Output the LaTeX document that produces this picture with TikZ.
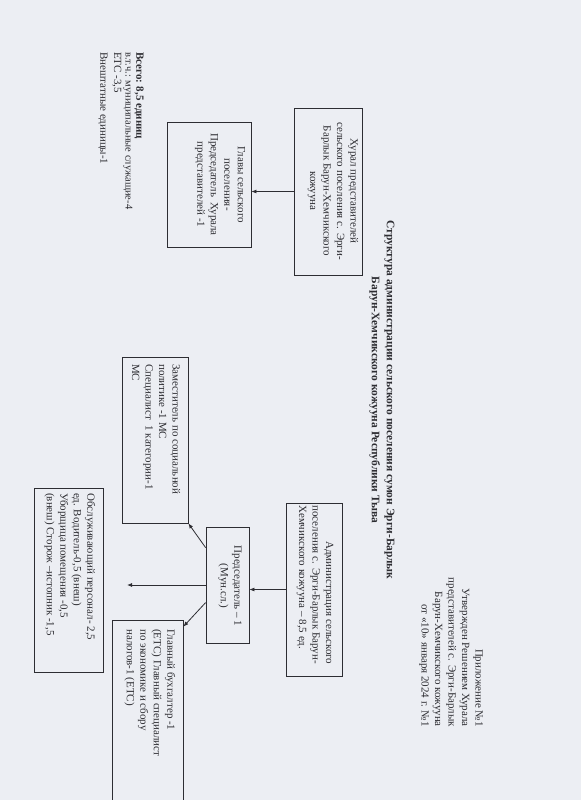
\documentclass[tikz,border=0pt]{standalone}
\usepackage{fontspec}
\setmainfont{Liberation Serif}
\usetikzlibrary{arrows.meta,calc}
\definecolor{paper}{RGB}{236,238,243}
\definecolor{ink}{RGB}{45,45,50}
\begin{document}
\begin{tikzpicture}[x=1pt,y=-1pt,
  box/.style={draw=ink, line width=0.8pt, inner sep=0pt},
  txt/.style={rotate=-90, inner sep=0pt, text=ink, font=\fontsize{11}{13.5}\selectfont},
  ttl/.style={rotate=-90, inner sep=0pt, text=ink, font=\fontsize{11.5}{15}\selectfont\bfseries},
  arr/.style={draw=ink, line width=0.8pt, -{Latex[length=5pt,width=4pt]}}
]
\fill[paper] (0,0) rectangle (581,800);
\useasboundingbox (0,0) rectangle (581,800);
\begin{scope}
\clip (0,0) rectangle (581,800);
% boxes
\node[box, minimum width=68pt, minimum height=167pt] (hural) at (328,191.5) {};
\node[box, minimum width=84pt, minimum height=125pt] (glava) at (209,184.5) {};
\node[box, minimum width=56pt, minimum height=173pt] (admin) at (314,589.5) {};
\node[box, minimum width=43pt, minimum height=116pt] (pred) at (227.5,585) {};
\node[box, minimum width=66pt, minimum height=166pt] (zam) at (155,440) {};
\node[box, minimum width=71pt, minimum height=185pt] (glav) at (147.5,712.5) {};
\node[box, minimum width=69pt, minimum height=184pt] (serv) at (68.5,580) {};
% texts
\node[txt, align=center] (thural) at (333,191) {Хурал представителей\\сельского поселения с. Эрги-\\Барлык Барун-Хемчикского\\кожууна};
\node[txt, align=center] (tglava) at (220,184.5) {Главы сельского\\поселения-\\Председатель\ \ Хурала\\представителей -1};
\node[txt, align=left, anchor=west] (tadmin) at (315,505) {\hspace*{36pt}Администрация сельского\\поселения с. Эрги-Барлык Барун-\\Хемчикского кожууна – 8,5 ед.};
\node[txt, align=center] (tpred) at (230,586) {Председатель – 1\\(Мун.сл.)};
\node[txt, align=left, anchor=west] (tzam) at (156,364) {Заместитель по социальной\\политике -1 МС\\Специалист\ \ 1 категории-1\\МС};
\node[txt, align=left, anchor=west] (tglav) at (150,629) {Главный бухгалтер -1\\(ЕТС) Главный специалист\\по экономике и сбору\\налогов-1 (ЕТС)};
\node[txt, align=left, anchor=west] (tserv) at (70,493) {Обслуживающий персонал- 2,5\\ед. Водитель-0,5 (внеш)\\Уборщица помещения -0,5\\(внеш) Сторож –истопник -1,5};
% title
\node[ttl, align=center] (title) at (382,400) {Структура администрации сельского поселения сумон Эрги-Барлык\\Барун-Хемчикского кожууна Республики Тыва};
% approval block
\node[txt, align=right, anchor=east] (appr) at (451,727) {Приложение №1\\Утвержден Решением Хурала\\представителей с. Эрги-Барлык\\Барун-Хемчикского кожууна\\от «10» января 2024 г. №1};
% summary
\node[txt, anchor=west, font=\fontsize{11}{13}\selectfont\bfseries] (s1) at (139,52) {Всего: 8,5 единиц};
\node[txt, anchor=west, font=\fontsize{10.5}{12}\selectfont] (s2) at (128,52) {в.т.ч.: муниципальные служащие-4};
\node[txt, anchor=west] (s3) at (117,52) {ЕТС -3,5};
\node[txt, anchor=west] (s4) at (103,52) {Внештатные единицы-1};
% connectors
\coordinate (stub) at (127,585);
\draw[arr] (hural.west) -- (hural.west -| glava.east);
\draw[arr] (admin.west) -- (admin.west -| pred.east);
\draw[arr] ($(pred.north west)+(0,21)$) -- (zam.south east);
\draw[arr] (pred.west) -- (stub);
\draw[arr] ($(pred.north west)+(0,76)$) -- ($(glav.north east)+(0,7)$);
\end{scope}
\end{tikzpicture}
\end{document}
